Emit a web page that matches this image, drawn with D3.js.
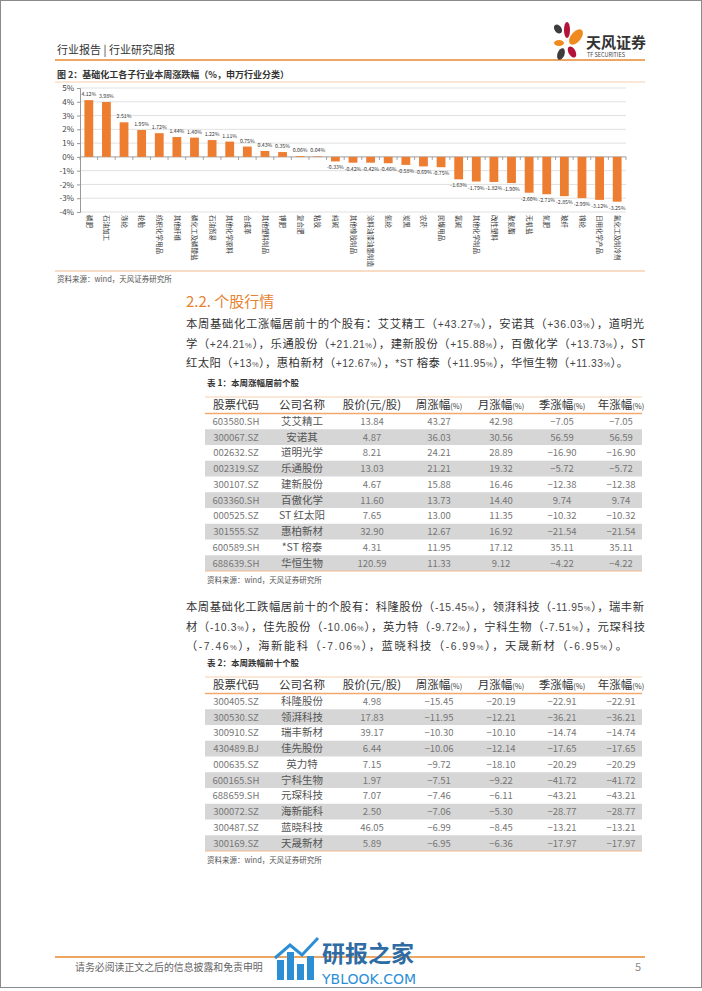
<!DOCTYPE html>
<html lang="zh">
<head>
<meta charset="UTF-8">
<script src="https://d3js.org/d3.v7.min.js"></script>
<style>
  body { margin: 0; background: #fff; }
  svg { display: block; font-family: "Noto Sans CJK SC", "Noto Sans", sans-serif; }
</style>
</head>
<body>
<svg width="702" height="991"></svg>
<script>
// ---- chart data: weekly change of SW basic chemical sub-industries (%)
let categories = ["磷肥", "石油加工", "涤纶", "轮胎", "纺织化学用品", "其他纤维", "磷化工及磷酸盐",
  "石油贸易", "其他化学原料", "合成革", "其他塑料制品", "钾肥", "复合肥", "粘胶", "纯碱",
  "其他橡胶制品", "涂料油漆油墨制造", "氨纶", "炭黑", "农药", "民爆用品", "氯碱", "其他化学制品",
  "改性塑料", "聚氨酯", "无机盐", "氮肥", "玻纤", "锦纶", "日用化学产品", "氟化工及制冷剂"];
let changes = [4.12, 3.98, 2.51, 1.95, 1.72, 1.44, 1.40, 1.22, 1.11, 0.75, 0.43, 0.35, 0.06, 0.04,
  -0.33, -0.42, -0.42, -0.46, -0.58, -0.69, -0.75, -1.63, -1.79, -1.82, -1.90, -2.60, -2.71,
  -2.85, -2.99, -3.12, -3.25];
let yTicks = [5, 4, 3, 2, 1, 0, -1, -2, -3, -4];

// ---- table 1: top gainers
let upCodes = ["603580.SH", "300067.SZ", "002632.SZ", "002319.SZ", "300107.SZ", "603360.SH",
  "000525.SZ", "301555.SZ", "600589.SH", "688639.SH"];
let upNames = ["艾艾精工", "安诺其", "道明光学", "乐通股份", "建新股份", "百傲化学", "ST 红太阳",
  "惠柏新材", "*ST 榕泰", "华恒生物"];
let upPrice = [13.84, 4.87, 8.21, 13.03, 4.67, 11.60, 7.65, 32.90, 4.31, 120.59];
let upWeek = [43.27, 36.03, 24.21, 21.21, 15.88, 13.73, 13.00, 12.67, 11.95, 11.33];
let upMonth = [42.98, 30.56, 28.89, 19.32, 16.46, 14.40, 11.35, 16.92, 17.12, 9.12];
let upQuarter = [-7.05, 56.59, -16.90, -5.72, -12.38, 9.74, -10.32, -21.54, 35.11, -4.22];
let upYear = [-7.05, 56.59, -16.90, -5.72, -12.38, 9.74, -10.32, -21.54, 35.11, -4.22];

// ---- table 2: top losers
let downCodes = ["300405.SZ", "300530.SZ", "300910.SZ", "430489.BJ", "000635.SZ", "600165.SH",
  "688659.SH", "300072.SZ", "300487.SZ", "300169.SZ"];
let downNames = ["科隆股份", "领湃科技", "瑞丰新材", "佳先股份", "英力特", "宁科生物", "元琛科技",
  "海新能科", "蓝晓科技", "天晟新材"];
let downPrice = [4.98, 17.83, 39.17, 6.44, 7.15, 1.97, 7.07, 2.50, 46.05, 5.89];
let downWeek = [-15.45, -11.95, -10.30, -10.06, -9.72, -7.51, -7.46, -7.06, -6.99, -6.95];
let downMonth = [-20.19, -12.21, -10.10, -12.14, -18.10, -9.22, -6.11, -5.30, -8.45, -6.36];
let downQuarter = [-22.91, -36.21, -14.74, -17.65, -20.29, -41.72, -43.21, -28.77, -13.21, -17.97];
let downYear = [-22.91, -36.21, -14.74, -17.65, -20.29, -41.72, -43.21, -28.77, -13.21, -17.97];

let headers = ["股票代码", "公司名称", "股价(元/股)", "周涨幅", "月涨幅", "季涨幅", "年涨幅"];

const orange = "#ED7D31";
const svg = d3.select("svg");

// page frame
svg.append("rect").attr("x", 0.5).attr("y", 0.5).attr("width", 701).attr("height", 987)
  .attr("fill", "none").attr("stroke", "#8a8a8a").attr("stroke-width", 1);

// ---- header
svg.append("text").attr("x", 57).attr("y", 54).attr("font-size", 11).attr("fill", "#333")
  .text("行业报告 | 行业研究周报");
svg.append("line").attr("x1", 55).attr("x2", 645).attr("y1", 60).attr("y2", 60)
  .attr("stroke", "#E8892F").attr("stroke-width", 1.6);

// logo petals
let logo = svg.append("g").attr("transform", "translate(567,41)");
logo.append("ellipse").attr("cx", -9).attr("cy", -12).attr("rx", 3.5).attr("ry", 5)
  .attr("transform", "rotate(-35,-9,-12)").attr("fill", "#3d3d3d");
logo.append("ellipse").attr("cx", 0).attr("cy", -11).attr("rx", 3).attr("ry", 8)
  .attr("fill", "#B5123A");
logo.append("ellipse").attr("cx", 9).attr("cy", -4).attr("rx", 5).attr("ry", 9)
  .attr("transform", "rotate(40,9,-4)").attr("fill", "#EE8A1E");
logo.append("ellipse").attr("cx", -8).attr("cy", 2).attr("rx", 5).attr("ry", 3)
  .attr("fill", "#EE8A1E");
logo.append("ellipse").attr("cx", 5).attr("cy", 11).attr("rx", 3.5).attr("ry", 6)
  .attr("transform", "rotate(-30,5,11)").attr("fill", "#B5123A");
logo.append("ellipse").attr("cx", -6).attr("cy", 13).attr("rx", 3.5).attr("ry", 6)
  .attr("transform", "rotate(20,-6,13)").attr("fill", "#3d3d3d");
svg.append("text").attr("x", 586).attr("y", 48).attr("font-size", 15).attr("font-weight", 700)
  .attr("fill", "#333").text("天风证券");
svg.append("text").attr("x", 587).attr("y", 57).attr("font-size", 5.5).attr("fill", "#444")
  .text("TF SECURITIES");

// ---- figure 2
svg.append("text").attr("x", 57).attr("y", 78).attr("font-size", 9).attr("font-weight", 700)
  .attr("fill", "#333").text("图 2：基础化工各子行业本周涨跌幅（%，申万行业分类）");
svg.append("line").attr("x1", 55).attr("x2", 645).attr("y1", 82).attr("y2", 82)
  .attr("stroke", "#F6CFAF").attr("stroke-width", 1.2);

const x = d3.scaleBand().domain(categories).range([80, 626]);
const y = d3.scaleLinear().domain([-4, 5]).range([212, 88]);

let chart = svg.append("g");
chart.selectAll(".grid").data(yTicks).enter().append("line")
  .attr("x1", 80).attr("x2", 626).attr("y1", d => y(d)).attr("y2", d => y(d))
  .attr("stroke", d => d === 0 ? "#888" : "#d9d9d9").attr("stroke-width", 0.8);

let yAxis = chart.append("g").attr("transform", "translate(80,0)")
  .call(d3.axisLeft(y).tickValues(yTicks).tickFormat(d => d + "%").tickSize(3).tickPadding(3));
yAxis.select(".domain").attr("stroke", "#999");
yAxis.selectAll(".tick line").attr("stroke", "#999");
yAxis.selectAll("text").attr("font-size", 8).attr("fill", "#444")
  .attr("font-family", "'Noto Sans CJK SC', sans-serif");

// category ticks on the zero line
chart.selectAll(".ctick").data(categories.concat(["__end"])).enter().append("line")
  .attr("x1", d => d === "__end" ? 626 : x(d)).attr("x2", d => d === "__end" ? 626 : x(d))
  .attr("y1", y(0)).attr("y2", y(0) + 3).attr("stroke", "#888").attr("stroke-width", 0.8);

const bw = x.bandwidth();
chart.selectAll(".bar").data(categories).enter().append("rect")
  .attr("x", d => x(d) + bw * 0.25).attr("width", bw * 0.5)
  .attr("y", (d, i) => y(Math.max(0, changes[i])))
  .attr("height", (d, i) => Math.abs(y(changes[i]) - y(0)))
  .attr("fill", orange);

chart.selectAll(".val").data(categories).enter().append("text")
  .attr("x", d => x(d) + bw / 2)
  .attr("y", (d, i) => changes[i] >= 0 ? y(changes[i]) - 4 : y(changes[i]) + 8)
  .attr("text-anchor", "middle").attr("font-size", 5.2).attr("fill", "#333")
  .text((d, i) => changes[i].toFixed(2) + "%");

chart.selectAll(".cat").data(categories).enter().append("text")
  .attr("transform", d => "translate(" + (x(d) + bw / 2 - 2.3) + ",215) rotate(90)")
  .attr("font-size", 6.5).attr("fill", "#333").text(d => d);

svg.append("line").attr("x1", 55).attr("x2", 645).attr("y1", 271).attr("y2", 271)
  .attr("stroke", "#F2B98C").attr("stroke-width", 1.2);
svg.append("text").attr("x", 57).attr("y", 282).attr("font-size", 7.5).attr("fill", "#555")
  .text("资料来源：wind，天风证券研究所");

// ---- section 2.2
svg.append("text").attr("x", 186).attr("y", 307).attr("font-size", 15).attr("fill", "#E8822F")
  .text("2.2. 个股行情");

// paragraph lines: CJK text, numbers in a narrower latin face with a small % sign
const numRe = /([+\-]?[\d.]+(?=%)|%|\*?ST )/;
function paragraph(lines, widths, y0) {
  lines.forEach((ln, i) => {
    let t = svg.append("text").attr("x", 186).attr("y", y0 + i * 19.5)
      .attr("font-size", 11.3).attr("fill", "#333")
      .attr("textLength", widths[i]).attr("lengthAdjust", "spacing");
    ln.split(numRe).filter(s => s && s.length).forEach(s => {
      let sp = t.append("tspan").text(s);
      if (s === "%") {
        sp.attr("font-size", 7.5).attr("fill", "#555")
          .attr("font-family", "'Liberation Sans', Arial, sans-serif");
      } else if (/^([+\-]?[\d.]+|\*?ST )$/.test(s)) {
        sp.attr("font-size", 10.3).attr("fill", "#444")
          .attr("font-family", "'Liberation Sans', Arial, sans-serif");
      }
    });
  });
}
paragraph([
  "本周基础化工涨幅居前十的个股有：艾艾精工（+43.27%），安诺其（+36.03%），道明光",
  "学（+24.21%），乐通股份（+21.21%），建新股份（+15.88%），百傲化学（+13.73%），ST",
  "红太阳（+13%），惠柏新材（+12.67%），*ST 榕泰（+11.95%），华恒生物（+11.33%）。"
], [458, 459, 442], 328);
paragraph([
  "本周基础化工跌幅居前十的个股有：科隆股份（-15.45%），领湃科技（-11.95%），瑞丰新",
  "材（-10.3%），佳先股份（-10.06%），英力特（-9.72%），宁科生物（-7.51%），元琛科技",
  "（-7.46%），海新能科（-7.06%），蓝晓科技（-6.99%），天晟新材（-6.95%）。"
], [458, 459, 441], 611);

// ---- tables
const colX = [236, 302, 372, 439, 501, 562, 621];
const f2 = d3.format(".2f");

function table(title, top, cols) {
  svg.append("text").attr("x", 207).attr("y", top - 11).attr("font-size", 8.5)
    .attr("font-weight", 700).attr("fill", "#333").text(title);
  let g = svg.append("g");
  let headBottom = top + 16.5;
  let rows = d3.scaleBand().domain(d3.range(10)).range([headBottom, headBottom + 157.5]);

  g.selectAll(".rowbg").data(d3.range(10).filter(i => i % 2 === 1)).enter().append("rect")
    .attr("x", 205).attr("width", 437).attr("y", d => rows(d)).attr("height", rows.bandwidth())
    .attr("fill", "#d6d6d6");

  g.append("line").attr("x1", 205).attr("x2", 642).attr("y1", top).attr("y2", top)
    .attr("stroke", "#F8CFAE").attr("stroke-width", 1);
  g.append("line").attr("x1", 205).attr("x2", 642).attr("y1", headBottom).attr("y2", headBottom)
    .attr("stroke", "#F2A96E").attr("stroke-width", 1.5);
  g.append("line").attr("x1", 205).attr("x2", 642).attr("y1", headBottom + 157.5)
    .attr("y2", headBottom + 157.5).attr("stroke", "#F2B98C").attr("stroke-width", 1.2);

  headers.forEach((h, j) => {
    let t = g.append("text").attr("x", colX[j]).attr("y", top + 12).attr("text-anchor", "middle")
      .attr("font-size", 11.5).attr("fill", "#333").text(h);
    if (j >= 3) t.append("tspan").attr("font-size", 7.5).text("(%)");
  });

  cols.forEach((col, j) => {
    g.selectAll(".c" + j).data(col).enter().append("text")
      .attr("x", colX[j]).attr("y", (d, i) => rows(i) + rows.bandwidth() / 2 + 3.5)
      .attr("text-anchor", "middle")
      .attr("font-size", j === 1 ? 10.5 : 9.5)
      .attr("fill", j === 1 ? "#555" : "#777")
      .text(d => typeof d === "number" ? f2(d) : d);
  });

  svg.append("text").attr("x", 207).attr("y", headBottom + 169).attr("font-size", 7.5)
    .attr("fill", "#555").text("资料来源：wind，天风证券研究所");
}

table("表 1：本周涨幅居前个股", 397,
  [upCodes, upNames, upPrice, upWeek, upMonth, upQuarter, upYear]);
table("表 2：本周跌幅前十个股", 677,
  [downCodes, downNames, downPrice, downWeek, downMonth, downQuarter, downYear]);

// ---- footer
svg.append("line").attr("x1", 55).attr("x2", 645).attr("y1", 957).attr("y2", 957)
  .attr("stroke", "#E8892F").attr("stroke-width", 1.4);
svg.append("text").attr("x", 75).attr("y", 971).attr("font-size", 9.9).attr("fill", "#666")
  .text("请务必阅读正文之后的信息披露和免责申明");
svg.append("text").attr("x", 641).attr("y", 971).attr("text-anchor", "end")
  .attr("font-size", 11).attr("fill", "#888").text("5");

// watermark
let wm = svg.append("g");
let wmBars = [{x: 277, h: 20}, {x: 287, h: 28}, {x: 297, h: 16}, {x: 307, h: 24}];
wm.selectAll("rect").data(wmBars).enter().append("rect")
  .attr("x", d => d.x).attr("width", 7).attr("y", d => 980 - d.h).attr("height", d => d.h)
  .attr("fill", "#2C8FD6");
wm.append("polyline").attr("points", "275,958 290,945 302,955 318,938")
  .attr("fill", "none").attr("stroke", "#2C8FD6").attr("stroke-width", 3);
wm.append("text").attr("x", 322).attr("y", 962).attr("font-size", 23).attr("font-weight", 700)
  .attr("fill", "#2F6CA3").text("研报之家");
wm.append("text").attr("x", 322).attr("y", 984).attr("font-size", 14)
  .attr("fill", "#2C8FD6").attr("font-family", "'DejaVu Sans', sans-serif").text("YBLOOK.COM");
</script>
</body>
</html>
